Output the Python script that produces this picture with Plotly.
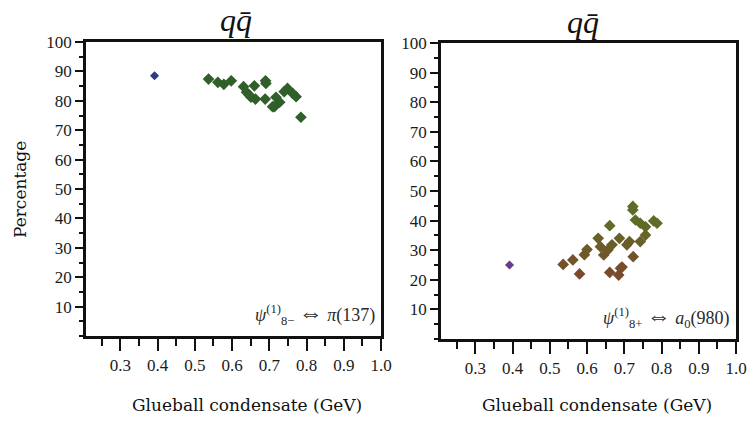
import plotly.graph_objects as go

# Pseudoscalar channel: psi_8-^(1) <-> pi(137)
ps_ref_x = [0.392]
ps_ref_y = [88.5]
ps_x = [0.537, 0.562, 0.578, 0.598, 0.631, 0.660, 0.691, 0.639, 0.651, 0.663,
        0.689, 0.718, 0.714, 0.709, 0.749, 0.763, 0.772, 0.740, 0.785, 0.646,
        0.728, 0.690]
ps_y = [87.4, 86.3, 85.6, 86.8, 84.8, 85.1, 85.9, 82.9, 81.2, 80.6,
        80.6, 81.2, 78.0, 78.0, 84.2, 82.5, 81.4, 83.1, 74.4, 82.0,
        79.5, 86.8]

# Scalar channel: psi_8+^(1) <-> a0(980)
sc_ref_x = [0.392]
sc_ref_y = [25.0]
sc_x = [0.536, 0.562, 0.580, 0.593, 0.600, 0.661, 0.630, 0.636, 0.645, 0.656,
        0.667, 0.687, 0.661, 0.690, 0.685, 0.723, 0.723, 0.730, 0.743, 0.757,
        0.779, 0.788, 0.757, 0.743, 0.714, 0.707, 0.724, 0.694]
sc_y = [25.2, 26.7, 22.0, 28.5, 30.2, 38.3, 34.0, 31.2, 28.4, 30.1,
        31.8, 34.0, 22.5, 23.9, 21.6, 44.8, 43.6, 40.2, 39.1, 37.9,
        39.9, 39.1, 35.1, 32.9, 32.9, 31.8, 27.8, 24.3]

x_ticks = [0.3, 0.4, 0.5, 0.6, 0.7, 0.8, 0.9, 1.0]
x_tick_text = ["0.3", "0.4", "0.5", "0.6", "0.7", "0.8", "0.9", "1.0"]
y_ticks = [10, 20, 30, 40, 50, 60, 70, 80, 90, 100]
y_tick_text = [str(v) for v in y_ticks]

ARROW = '<span style="font-size:24px">⇔</span>'
panel_title = "<i>q</i><i>q̄</i>"
ps_label = "<i>ψ</i><sup>(1)</sup><sub>8−</sub> " + ARROW + " <i>π</i>(137)"
sc_label = "<i>ψ</i><sup>(1)</sup><sub>8+</sub> " + ARROW + " <i>a</i><sub>0</sub>(980)"
x_title = "Glueball condensate (GeV)"
y_title = "Percentage"

TICK_FONT = dict(family="Liberation Serif", size=17, color="#1a1a1a")
LABEL_FONT = dict(family="DejaVu Serif", size=17, color="#111")

fig = go.Figure()

fig.add_trace(go.Scatter(x=ps_ref_x, y=ps_ref_y, mode="markers", xaxis="x", yaxis="y",
                         marker=dict(symbol="diamond", size=7, color="#2b3a8c")))
fig.add_trace(go.Scatter(x=ps_x, y=ps_y, mode="markers", xaxis="x", yaxis="y",
                         marker=dict(symbol="diamond", size=9, color="#305f2a",
                                     line=dict(width=0))))
fig.add_trace(go.Scatter(x=sc_ref_x, y=sc_ref_y, mode="markers", xaxis="x2", yaxis="y2",
                         marker=dict(symbol="diamond", size=7, color="#6a3d8c")))
fig.add_trace(go.Scatter(x=sc_x, y=sc_y, mode="markers", xaxis="x2", yaxis="y2",
                         marker=dict(symbol="diamond", size=9, color=sc_y,
                                     colorscale=[[0, "#7a4a2c"], [1, "#5e6d26"]],
                                     cmin=22, cmax=40, line=dict(width=0))))


def xaxis(domain, anchor):
    return dict(domain=domain, anchor=anchor, range=[0.208, 1.0], automargin=False,
                tickvals=x_ticks, ticktext=x_tick_text, ticks="outside",
                ticklen=12, tickwidth=2, tickcolor="#111",
                minor=dict(dtick=0.05, tick0=0.25, ticks="outside", ticklen=7,
                           tickwidth=2, tickcolor="#111"),
                showline=True, linewidth=2.5, linecolor="#111", mirror=True,
                showgrid=False, zeroline=False, tickfont=TICK_FONT)


def yaxis(domain, anchor):
    return dict(domain=domain, anchor=anchor, range=[0, 100], automargin=False,
                tickvals=y_ticks, ticktext=y_tick_text, ticks="outside",
                ticklen=8, tickwidth=2, tickcolor="#111",
                minor=dict(dtick=5, tick0=5, ticks="outside", ticklen=4,
                           tickwidth=2, tickcolor="#111"),
                showline=True, linewidth=2.5, linecolor="#111", mirror=True,
                showgrid=False, zeroline=False, tickfont=TICK_FONT)


fig.update_layout(
    width=748, height=426,
    margin=dict(l=0, r=0, t=0, b=0, autoexpand=False),
    paper_bgcolor="white", plot_bgcolor="white",
    showlegend=False,
    xaxis=xaxis([86 / 748, 381 / 748], "y"),
    yaxis=yaxis([1 - 336 / 426, 1 - 42 / 426], "x"),
    xaxis2=xaxis([441 / 748, 736 / 748], "y2"),
    yaxis2=yaxis([1 - 339 / 426, 1 - 43 / 426], "x2"),
)

annotations = [
    dict(text=panel_title, x=236 / 748, y=1 - 20 / 426, xref="paper", yref="paper",
         xanchor="center", yanchor="middle", showarrow=False,
         font=dict(family="Liberation Serif", size=32, color="#111")),
    dict(text=panel_title, x=583 / 748, y=1 - 22 / 426, xref="paper", yref="paper",
         xanchor="center", yanchor="middle", showarrow=False,
         font=dict(family="Liberation Serif", size=32, color="#111")),
    dict(text=ps_label, x=0.985, y=0.075, xref="x domain", yref="y domain",
         xanchor="right", yanchor="middle", showarrow=False,
         font=dict(family="Liberation Serif", size=18, color="#2a2a2a")),
    dict(text=sc_label, x=0.985, y=0.075, xref="x2 domain", yref="y2 domain",
         xanchor="right", yanchor="middle", showarrow=False,
         font=dict(family="Liberation Serif", size=18, color="#2a2a2a")),
    dict(text=x_title, x=247 / 748, y=1 - 405 / 426, xref="paper", yref="paper",
         xanchor="center", yanchor="middle", showarrow=False, font=LABEL_FONT),
    dict(text=x_title, x=597 / 748, y=1 - 405 / 426, xref="paper", yref="paper",
         xanchor="center", yanchor="middle", showarrow=False, font=LABEL_FONT),
    dict(text=y_title, x=20 / 748, y=1 - 190 / 426, xref="paper", yref="paper",
         xanchor="center", yanchor="middle", showarrow=False, textangle=-90,
         font=LABEL_FONT),
]
fig.update_layout(annotations=annotations)

fig.write_html("out.html")
